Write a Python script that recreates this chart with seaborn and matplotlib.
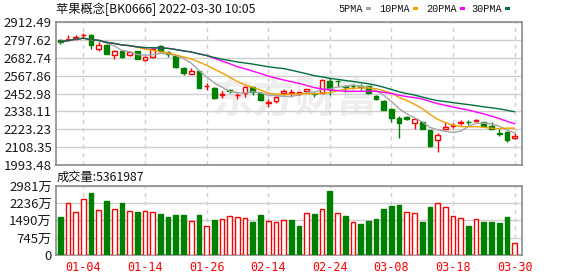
import numpy as np
import pandas as pd
import matplotlib
matplotlib.use("Agg")
import matplotlib.pyplot as plt
import seaborn as sns

# ---------------- data ----------------
opens = [2797, 2796, 2812, 2826, 2831, 2741, 2763, 2703, 2724, 2699,
         2724, 2670, 2687, 2756, 2720, 2694, 2617, 2579, 2596, 2500,
         2487, 2446, 2473, 2442, 2459, 2493, 2459, 2393, 2407, 2459,
         2458, 2450, 2467, 2451, 2459, 2534, 2535, 2502, 2502, 2502,
         2500, 2440, 2405, 2354, 2294, 2305, 2262, 2270, 2216, 2155,
         2224, 2244, 2265, 2272, 2274, 2270, 2247, 2199, 2208, 2168]
highs = [2801, 2827, 2831, 2842, 2833, 2784, 2768, 2735, 2728, 2724,
         2727, 2694, 2755, 2763, 2724, 2697, 2626, 2617, 2600, 2521,
         2493, 2471, 2481, 2459, 2501, 2501, 2465, 2416, 2436, 2481,
         2481, 2465, 2484, 2463, 2545, 2551, 2538, 2506, 2515, 2514,
         2503, 2445, 2408, 2358, 2309, 2309, 2290, 2272, 2218, 2196,
         2272, 2266, 2284, 2285, 2290, 2272, 2270, 2225, 2210, 2198]
lows = [2772, 2793, 2799, 2810, 2741, 2724, 2705, 2677, 2684, 2696,
        2673, 2662, 2684, 2720, 2686, 2619, 2574, 2577, 2486, 2478,
        2420, 2423, 2459, 2417, 2433, 2444, 2405, 2365, 2391, 2444,
        2433, 2445, 2465, 2429, 2455, 2444, 2493, 2465, 2481, 2476,
        2450, 2412, 2345, 2273, 2170, 2285, 2224, 2222, 2110, 2074,
        2222, 2230, 2248, 2250, 2268, 2238, 2224, 2178, 2140, 2162]
closes = [2786, 2801, 2817, 2830, 2763, 2767, 2709, 2724, 2688, 2720,
          2677, 2686, 2742, 2728, 2707, 2622, 2587, 2600, 2489, 2503,
          2424, 2450, 2469, 2446, 2493, 2465, 2412, 2397, 2433, 2466,
          2463, 2460, 2480, 2447, 2540, 2481, 2531, 2493, 2498, 2493,
          2454, 2418, 2348, 2296, 2262, 2288, 2288, 2224, 2113, 2187,
          2237, 2249, 2270, 2267, 2284, 2241, 2226, 2194, 2151, 2182]
# volume in 万
volumes = [1634, 2221, 1834, 2393, 2666, 1920, 2322, 1963, 2236, 1892,
           1849, 1877, 1834, 1763, 1634, 1720, 1720, 1447, 1720, 1232,
           1505, 1533, 1662, 1619, 1576, 1419, 1720, 1447, 1404, 1490,
           1505, 1247, 1792, 1763, 1963, 2752, 1792, 1677, 1404, 1333,
           1462, 1548, 1978, 2107, 2150, 1834, 1792, 1419, 2064, 2221,
           2049, 1662, 1576, 1247, 1533, 1419, 1419, 1376, 1634, 536]
vol_up = [0, 1, 1, 1, 0, 1, 0, 1, 0, 1,
          0, 1, 1, 0, 0, 0, 0, 1, 0, 1,
          0, 1, 1, 1, 1, 0, 0, 1, 1, 1,
          0, 0, 1, 0, 1, 0, 1, 0, 1, 0,
          0, 0, 0, 0, 0, 1, 1, 0, 0, 1,
          1, 1, 1, 0, 1, 0, 0, 0, 0, 1]
date_ticks = [3, 11, 19, 27, 35, 43, 51, 59]
date_labels = ["01-04", "01-14", "01-26", "02-14", "02-24", "03-08", "03-18", "03-30"]
price_ticks = [1993.48, 2108.35, 2223.23, 2338.11, 2452.98, 2567.86, 2682.74, 2797.62, 2912.49]
vol_ticks = [0, 745.25, 1490.5, 2235.75, 2981]
vol_labels = ["0", "745万", "1490万", "2236万", "2981万"]
ma_windows = [5, 10, 20, 30]
ma_names = ["5PMA", "10PMA", "20PMA", "30PMA"]
ma_colors = ["#a6a6a6", "#f0a000", "#ff00ff", "#00703c"]
title = "苹果概念[BK0666] 2022-03-30 10:05"
vol_title = "成交量:5361987"

# ---------------- style ----------------
sns.set_style("white")
plt.rcParams["font.family"] = ["Noto Sans CJK SC", "DejaVu Sans"]

RED = "#ff0000"
GREEN = "#008000"
GRID = "#cfcfcf"
FRAME = "#8c8c8c"

df = pd.DataFrame({"i": np.arange(len(closes)), "open": opens, "high": highs,
                   "low": lows, "close": closes, "vol": volumes, "vup": vol_up})

W, H = 578, 276
fig = plt.figure(figsize=(W / 100, H / 100), dpi=100)
L, R = 56, 522.3
ax = fig.add_axes([L / W, 1 - 165 / H, (R - L) / W, (165 - 22) / H])
axv = fig.add_axes([L / W, 1 - 255 / H, (R - L) / W, (255 - 185.7) / H])

xlim = (-0.56, 60.0)

# watermark
ax.text(30.5, 2415, "东方财富", ha="center", va="center", fontsize=30,
        color="#eeeeee", fontweight="bold", zorder=0)

# candles
cw = 0.62
for _, r in df.iterrows():
    col = RED if r["close"] >= r["open"] else GREEN
    ax.vlines(r["i"], r["low"], r["high"], color=col, lw=1, zorder=2)
    b = min(r["open"], r["close"])
    h = max(abs(r["close"] - r["open"]), 1.5)
    if r["close"] >= r["open"]:
        ax.bar(r["i"], h, bottom=b, width=cw, facecolor="white", edgecolor=RED,
               lw=1, zorder=3)
    else:
        ax.bar(r["i"], h, bottom=b, width=cw, facecolor=GREEN, edgecolor=GREEN,
               lw=1, zorder=3)

# moving averages
for w, c in zip(ma_windows, ma_colors):
    df[f"ma{w}"] = df["close"].rolling(w, min_periods=1).mean()
    sns.lineplot(data=df, x="i", y=f"ma{w}", ax=ax, color=c, lw=1, zorder=4,
                 legend=False)

ax.set_xlim(*xlim)
ax.set_ylim(price_ticks[0], price_ticks[-1])
ax.set_yticks(price_ticks)
ax.set_yticklabels([f"{v:.2f}" for v in price_ticks])
ax.set_xticks(date_ticks)
ax.set_xticklabels([])
ax.set_xlabel("")
ax.set_ylabel("")

# volume
for _, r in df.iterrows():
    if r["vup"]:
        axv.bar(r["i"], r["vol"], width=0.62, facecolor="white", edgecolor=RED,
                lw=1, zorder=3)
    else:
        axv.bar(r["i"], r["vol"], width=0.62, facecolor=GREEN, edgecolor=GREEN,
                lw=1, zorder=3)
axv.set_xlim(*xlim)
axv.set_ylim(0, vol_ticks[-1])
axv.set_yticks(vol_ticks)
axv.set_yticklabels(vol_labels)
axv.set_xticks(date_ticks)
axv.set_xticklabels(date_labels, color=RED, fontsize=8.5,
                    family=["DejaVu Sans Mono"])

for a in (ax, axv):
    a.grid(False)
    for t in a.get_yticks():
        a.axhline(t, color=GRID, lw=1, zorder=1)
    for t in date_ticks:
        a.axvline(t, color=GRID, lw=1, ls=(0, (3, 3)), zorder=1)
    for s in a.spines.values():
        s.set_color(FRAME)
        s.set_linewidth(1.2)
    a.tick_params(axis="both", length=0, pad=3, labelsize=9.5, colors="#1a1a1a")
    a.set_facecolor("white")
axv.tick_params(axis="x", pad=4, labelcolor=RED, labelsize=8.5)
for lab in axv.get_xticklabels():
    lab.set_color(RED)

# header texts
fig.text(56 / W, 1 - 9 / H, title, ha="left", va="center", fontsize=8.8,
         color="#111111")
fig.text(57 / W, 1 - 177.5 / H, vol_title, ha="left", va="center", fontsize=8.8,
         color="#111111")

# legend: label then small colored dash
rect_x = [366, 413, 460, 505]
for rx, name, c in zip(rect_x, ma_names, ma_colors):
    fig.text((rx - 3) / W, 1 - 9 / H, name, ha="right", va="center",
             fontsize=7.3, color="#111111", family=["Liberation Mono"])
    fig.patches.append(matplotlib.patches.Rectangle(
        (rx / W, 1 - 10.0 / H), 5 / W, 2.6 / H, transform=fig.transFigure,
        facecolor=c, edgecolor="none"))

fig.savefig("out.png", dpi=100)
